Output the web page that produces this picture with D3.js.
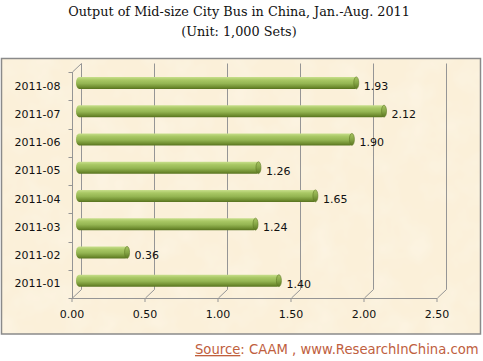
<!DOCTYPE html>
<html>
<head>
<meta charset="utf-8">
<script src="https://cdn.jsdelivr.net/npm/d3@7"></script>
<style>
  html, body { margin: 0; padding: 0; background: #ffffff; }
  svg { display: block; }
</style>
</head>
<body>
<script>
// ---- data ----
const categories = ["2011-01", "2011-02", "2011-03", "2011-04", "2011-05", "2011-06", "2011-07", "2011-08"];
const values = [1.40, 0.36, 1.24, 1.65, 1.26, 1.90, 2.12, 1.93];
const xTicks = [0, 0.5, 1.0, 1.5, 2.0, 2.5];
const titleLines = ["Output of Mid-size City Bus in China, Jan.-Aug. 2011", "(Unit: 1,000 Sets)"];
const sourceLabel = "Source";
const sourceText = ": CAAM , www.ResearchInChina.com";

const W = 483, H = 361;
const svg = d3.select("body").append("svg").attr("width", W).attr("height", H);
const defs = svg.append("defs");

// parchment texture
const filt = defs.append("filter").attr("id", "paper").attr("x", 0).attr("y", 0).attr("width", 1).attr("height", 1);
filt.append("feTurbulence").attr("type", "fractalNoise").attr("baseFrequency", 0.035).attr("numOctaves", 3).attr("seed", 4).attr("result", "noise");
filt.append("feColorMatrix").attr("in", "noise").attr("type", "matrix")
  .attr("values", "0 0 0 0 0.985  0 0 0 0 0.935  0 0 0 0 0.835  0 0 0 -0.9 0.55").attr("result", "tint");
filt.append("feComposite").attr("in", "tint").attr("in2", "SourceGraphic").attr("operator", "over");

const grad = defs.append("linearGradient").attr("id", "barGrad").attr("x1", 0).attr("y1", 0).attr("x2", 0).attr("y2", 1);
[[0, "#c9e08e"], [0.25, "#a9c865"], [0.55, "#94b552"], [0.85, "#6f8d30"], [1, "#58731f"]]
  .forEach(([o, c]) => grad.append("stop").attr("offset", o).attr("stop-color", c));
const capGrad = defs.append("linearGradient").attr("id", "capGrad").attr("x1", 0).attr("y1", 0).attr("x2", 0).attr("y2", 1);
[[0, "#a8c562"], [0.5, "#86a646"], [1, "#5b7622"]]
  .forEach(([o, c]) => capGrad.append("stop").attr("offset", o).attr("stop-color", c));

// title
svg.append("g").selectAll("text").data(titleLines).join("text")
  .attr("x", 239).attr("y", (d, i) => 15.5 + i * 20)
  .attr("text-anchor", "middle")
  .attr("font-family", "'DejaVu Serif', serif")
  .attr("font-size", 12.8)
  .attr("fill", "#111")
  .text(d => d);

// frame
svg.append("rect").attr("x", 1.5).attr("y", 58.5).attr("width", 479).attr("height", 275.5)
  .attr("fill", "#fbf0d9");
svg.append("rect").attr("x", 1.5).attr("y", 58.5).attr("width", 479).attr("height", 275.5)
  .attr("fill", "#fbf0d9").attr("filter", "url(#paper)");
svg.append("rect").attr("x", 1.5).attr("y", 58.5).attr("width", 479).attr("height", 275.5)
  .attr("fill", "none").attr("stroke", "#8a8a8a").attr("stroke-width", 1.5);

// scales
const x = d3.scaleLinear().domain([0, 2.5]).range([71.5, 436.5]);
const y = d3.scaleBand().domain(categories.slice().reverse()).range([72, 298]);
const dx = 9, dy = -8.5;
const yBottom = 298, yTop = 72;
const grid = "#959595";

const g = svg.append("g");
// back gridlines + floor diagonals
xTicks.forEach(t => {
  const fx = Math.round(x(t)) + 0.5;
  g.append("line").attr("x1", fx + dx).attr("x2", fx + dx).attr("y1", yTop + dy).attr("y2", yBottom + dy)
    .attr("stroke", grid).attr("stroke-width", 1);
  g.append("line").attr("x1", fx).attr("y1", yBottom).attr("x2", fx + dx).attr("y2", yBottom + dy)
    .attr("stroke", grid).attr("stroke-width", 1);
});
// left wall front edge
const lx = Math.round(x(0)) + 0.5;
g.append("line").attr("x1", lx).attr("x2", lx).attr("y1", yTop).attr("y2", yBottom).attr("stroke", grid);
g.append("line").attr("x1", lx).attr("y1", yTop).attr("x2", lx + dx).attr("y2", yTop + dy).attr("stroke", grid);

// x axis (front)
const xAxis = d3.axisBottom(x).tickValues(xTicks).tickFormat(d3.format(".2f")).tickSize(4).tickSizeOuter(0).tickPadding(8);
const xa = svg.append("g").attr("transform", `translate(0,${yBottom})`).call(xAxis);
xa.select(".domain").attr("stroke", grid);
xa.selectAll(".tick line").attr("stroke", grid);
xa.selectAll("text").attr("font-family", "'DejaVu Sans', Verdana, sans-serif").attr("font-size", 11).attr("fill", "#111");

// y axis
const yAxis = d3.axisLeft(y).tickSize(0).tickPadding(12);
const ya = svg.append("g").attr("transform", `translate(${lx},0)`).call(yAxis);
ya.select(".domain").remove();
ya.selectAll("text").attr("font-family", "'DejaVu Sans', Verdana, sans-serif").attr("font-size", 11).attr("fill", "#111");
// y tick marks at band boundaries
const bounds = categories.map(c => y(c)).concat([yBottom]);
svg.append("g").selectAll("line").data(bounds).join("line")
  .attr("x1", lx - 4).attr("x2", lx).attr("y1", d => Math.round(d) + 0.5).attr("y2", d => Math.round(d) + 0.5)
  .attr("stroke", grid);

// bars (cylinders)
const bh = 12;
const bars = svg.append("g").selectAll("g").data(categories.map((c, i) => ({ c, v: values[i] }))).join("g");
const bx0 = x(0) + dx / 2;
const byc = d => y(d.c) + y.bandwidth() / 2 + dy / 2 + 1;
bars.append("rect")
  .attr("x", bx0).attr("y", d => byc(d) - bh / 2)
  .attr("width", d => x(d.v) - x(0)).attr("height", bh)
  .attr("rx", 3).attr("ry", 6)
  .attr("fill", "url(#barGrad)");
bars.append("ellipse")
  .attr("cx", d => x(d.v) + dx / 2 - 1.5).attr("cy", d => byc(d))
  .attr("rx", 2.5).attr("ry", bh / 2)
  .attr("fill", "url(#capGrad)").attr("stroke", "#5f7a25").attr("stroke-width", 0.6);
bars.append("text")
  .attr("x", d => x(d.v) + dx / 2 + 6).attr("y", d => y(d.c) + y.bandwidth() / 2)
  .attr("dy", "0.35em")
  .attr("font-family", "'DejaVu Sans', Verdana, sans-serif").attr("font-size", 11).attr("fill", "#111")
  .text(d => d3.format(".2f")(d.v));

// source
const src = svg.append("text").attr("x", 195).attr("y", 354)
  .attr("font-family", "'DejaVu Sans', sans-serif").attr("font-size", 13.2).attr("fill", "#c0603e");
src.append("tspan").attr("text-decoration", "underline").text(sourceLabel);
src.append("tspan").text(sourceText);
</script>
</body>
</html>
